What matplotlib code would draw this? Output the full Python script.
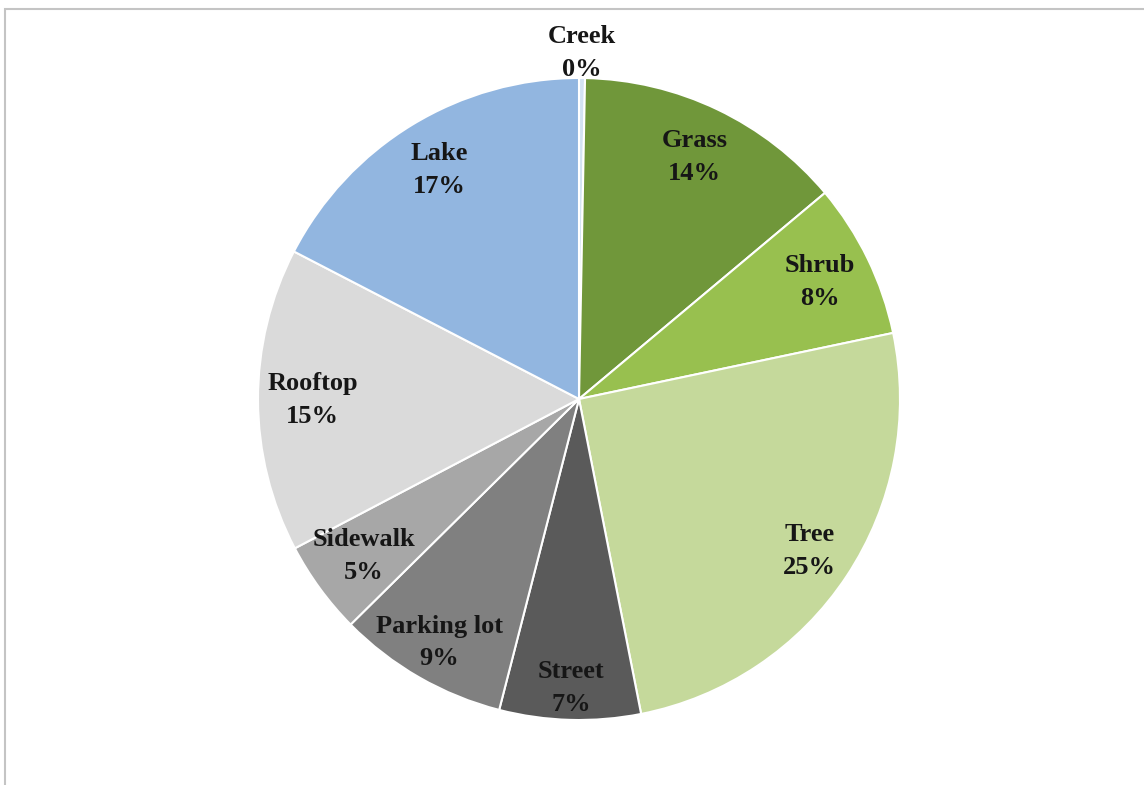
import numpy as np
import matplotlib
matplotlib.use("Agg")
import matplotlib.pyplot as plt
from matplotlib.patches import Rectangle

# land cover shares (percent), clockwise from the top
categories = ["Creek", "Grass", "Shrub", "Tree", "Street",
              "Parking lot", "Sidewalk", "Rooftop", "Lake"]
shares = [0.3, 13.6, 7.8, 25.2, 7.1, 8.6, 4.7, 15.3, 17.4]
colors = ["#d3e2f3", "#70973a", "#98c04f", "#c5d99b", "#5a5a5a",
          "#808080", "#a7a7a7", "#dadada", "#92b6e0"]
# how far out each label sits, as a fraction of the radius
label_r = [1.078, 0.835, 0.835, 0.86, 0.9, 0.875, 0.83, 0.83, 0.835]

W, H = 1144, 785
fig = plt.figure(figsize=(W / 100, H / 100), dpi=100)
ax = fig.add_axes([0, 0, 1, 1])

cx, cy, R = 579, H - 399, 321
wedges, _ = ax.pie(shares, colors=colors, startangle=90, counterclock=False,
                   radius=R, center=(cx, cy),
                   wedgeprops=dict(edgecolor="white", linewidth=1.5))

ax.set_xlim(0, W)
ax.set_ylim(0, H)
ax.set_aspect("auto")
ax.axis("off")

for w, name, val, r in zip(wedges, categories, shares, label_r):
    mid = np.deg2rad((w.theta1 + w.theta2) / 2)
    x = cx + r * R * np.cos(mid)
    y = cy + r * R * np.sin(mid)
    ax.text(x, y, f"{name}\n{round(val):.0f}%", ha="center", va="center",
            fontsize=19, fontweight="bold", family="Liberation Serif",
            color="#161616", linespacing=1.55, zorder=5)

# thin frame around the chart area
fig.patches.append(Rectangle((5 / W, -0.1), 1.2, 1.1 - 9 / H,
                             transform=fig.transFigure, fill=False,
                             edgecolor="#c4c4c4", linewidth=1.5))

fig.savefig("out.png", dpi=100, facecolor="white")
